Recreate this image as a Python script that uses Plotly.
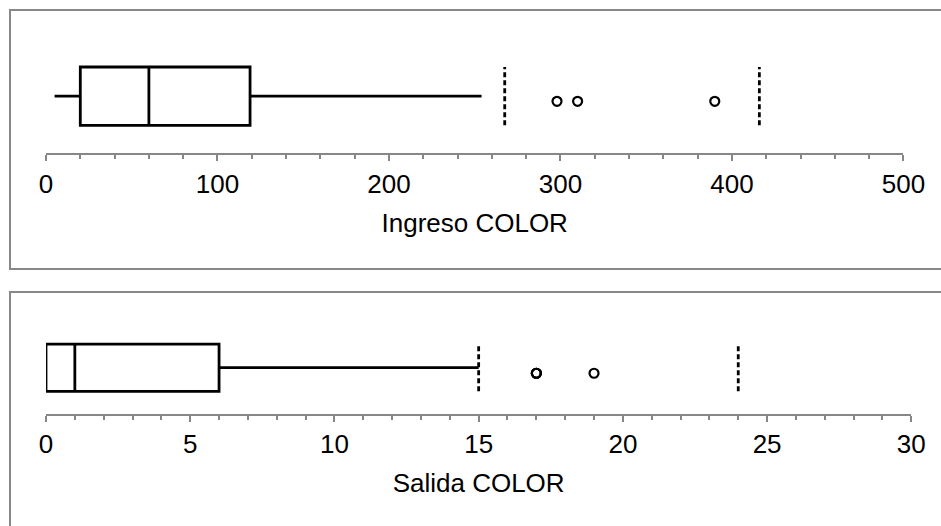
import plotly.graph_objects as go

# ---- data ----
ing_q1 = [20]
ing_median = [60]
ing_q3 = [119]
ing_min = [5]
ing_max = [254]
ing_outliers = [298, 310, 390]

sal_q1 = [0]
sal_median = [1]
sal_q3 = [6]
sal_min = [0]
sal_max = [15]
sal_outliers = [17, 17, 17, 19]

ing_ticks = [0, 100, 200, 300, 400, 500]
sal_ticks = [0, 5, 10, 15, 20, 25, 30]

# fences (inner = Q3 + 1.5 IQR, outer = Q3 + 3 IQR)
def fences(q1, q3):
    iqr = q3 - q1
    return [q3 + 1.5 * iqr, q3 + 3 * iqr]

ing_fences = fences(ing_q1[0], ing_q3[0])
sal_fences = fences(sal_q1[0], sal_q3[0])

W, H = 941, 526
def px(x):
    return x / W
def py(y):
    return 1 - y / H

FONT = "Liberation Sans, Arial, sans-serif"
FS = 26
AXC = "#878787"
HALF = 0.51
LW = 2.8

fig = go.Figure()

def add_panel(xa, ya, q1, med, q3, lo, hi, outl, fen, yoff):
    fig.add_trace(go.Box(
        q1=q1, median=med, q3=q3, lowerfence=lo, upperfence=hi,
        y=[0], orientation="h", xaxis=xa, yaxis=ya, width=2 * HALF,
        line=dict(color="black", width=LW), fillcolor="rgba(0,0,0,0)",
        whiskerwidth=0, boxpoints=False, hoverinfo="skip", showlegend=False))
    fig.add_trace(go.Scatter(
        x=outl, y=[yoff] * len(outl), mode="markers", xaxis=xa, yaxis=ya,
        marker=dict(symbol="circle-open", size=9, color="black",
                    line=dict(width=2.2, color="black")),
        hoverinfo="skip", showlegend=False))
    for f in fen:
        fig.add_trace(go.Scatter(
            x=[f, f], y=[-HALF, HALF], mode="lines", xaxis=xa, yaxis=ya,
            line=dict(color="black", width=LW, dash="5px,3px"),
            hoverinfo="skip", showlegend=False))

add_panel("x", "y", ing_q1, ing_median, ing_q3, ing_min, ing_max,
          ing_outliers, ing_fences, -0.09)
add_panel("x2", "y2", sal_q1, sal_median, sal_q3, sal_min, sal_max,
          sal_outliers, sal_fences, -0.12)

def xaxis_cfg(dom, rng, ticks, minor_dtick, title, anchor):
    return dict(
        domain=dom, range=rng, anchor=anchor, tickvals=ticks,
        showline=True, linecolor=AXC, linewidth=2,
        ticks="outside", ticklen=6, tickwidth=2, tickcolor=AXC,
        minor=dict(dtick=minor_dtick, ticks="outside", ticklen=4,
                   tickwidth=2, tickcolor=AXC, showgrid=False),
        showgrid=False, zeroline=False,
        tickfont=dict(family=FONT, size=FS, color="black"),
        title=dict(text=title, font=dict(family=FONT, size=FS, color="black"),
                   standoff=16),
        fixedrange=True)

def yaxis_cfg(bottom_px, top_px, anchor):
    return dict(domain=[py(bottom_px), py(top_px)], range=[-1, 1],
                visible=False, anchor=anchor, fixedrange=True)

fig.update_layout(
    width=W, height=H,
    margin=dict(l=0, r=0, t=0, b=0),
    paper_bgcolor="white", plot_bgcolor="white",
    template="none",
    xaxis=xaxis_cfg([px(46), px(903.4)], [0, 500], ing_ticks, 20,
                    "Ingreso COLOR", "y"),
    yaxis=yaxis_cfg(153.3, 39, "x"),
    xaxis2=xaxis_cfg([px(46), px(911.3)], [0, 30], sal_ticks, 1,
                     "Salida COLOR", "y2"),
    yaxis2=yaxis_cfg(414, 321.4, "x2"),
    shapes=[
        dict(type="rect", xref="paper", yref="paper",
             x0=px(10), x1=px(945), y0=py(269), y1=py(10),
             line=dict(color="#888888", width=2), layer="below"),
        dict(type="rect", xref="paper", yref="paper",
             x0=px(10), x1=px(945), y0=py(540), y1=py(292),
             line=dict(color="#888888", width=2), layer="below"),
    ],
)

fig.write_html("out.html",
               config={"displayModeBar": False, "staticPlot": True},
               post_script="document.body.style.margin='0px';"
                           "document.body.style.overflow='hidden';")
